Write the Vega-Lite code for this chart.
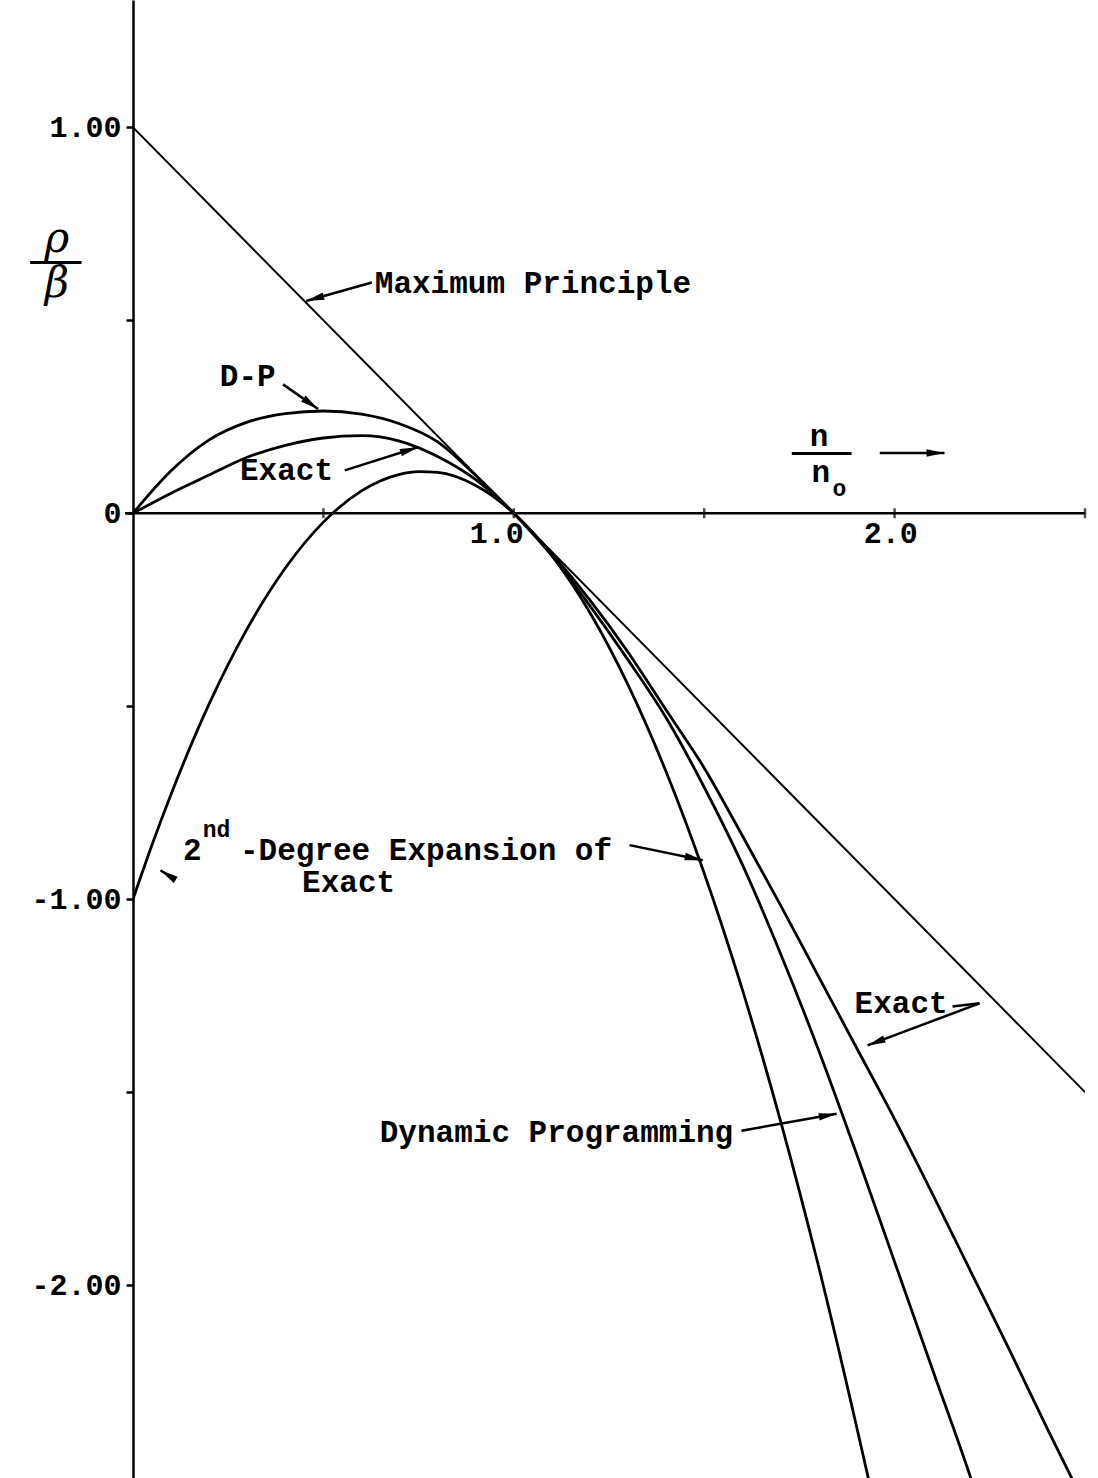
{
  "$schema": "https://vega.github.io/schema/vega-lite/v6.json",
  "width": 952,
  "height": 1478,
  "autosize": {"type": "none"},
  "padding": {"left": 133, "right": 13, "top": 0, "bottom": 0},
  "background": "white",
  "config": {
    "view": {"stroke": null},
    "text": {"font": "Liberation Mono", "fontWeight": "bold", "fontSize": 31, "color": "black"}
  },
  "datasets": {
    "curves": [
      {"c": "max", "x": 0, "y": 1}, {"c": "max", "x": 2.5, "y": -1.5},

      {"c": "exact", "x": 0, "y": 0}, {"c": "exact", "x": 0.1, "y": 0.052}, {"c": "exact", "x": 0.2, "y": 0.099},
      {"c": "exact", "x": 0.3, "y": 0.145}, {"c": "exact", "x": 0.4, "y": 0.176}, {"c": "exact", "x": 0.5, "y": 0.195},
      {"c": "exact", "x": 0.6, "y": 0.201}, {"c": "exact", "x": 0.7, "y": 0.187}, {"c": "exact", "x": 0.8, "y": 0.147},
      {"c": "exact", "x": 0.9, "y": 0.087}, {"c": "exact", "x": 1.0, "y": 0}, {"c": "exact", "x": 1.1, "y": -0.105},
      {"c": "exact", "x": 1.2, "y": -0.225}, {"c": "exact", "x": 1.3, "y": -0.36}, {"c": "exact", "x": 1.4, "y": -0.51},
      {"c": "exact", "x": 1.5, "y": -0.66}, {"c": "exact", "x": 1.6, "y": -0.835}, {"c": "exact", "x": 1.7, "y": -1.015},
      {"c": "exact", "x": 1.8, "y": -1.2}, {"c": "exact", "x": 1.9, "y": -1.385}, {"c": "exact", "x": 2.0, "y": -1.57},
      {"c": "exact", "x": 2.1, "y": -1.765}, {"c": "exact", "x": 2.2, "y": -1.965}, {"c": "exact", "x": 2.3, "y": -2.165},
      {"c": "exact", "x": 2.4, "y": -2.37}, {"c": "exact", "x": 2.48, "y": -2.53},

      {"c": "dp", "x": 0, "y": 0}, {"c": "dp", "x": 0.1, "y": 0.11}, {"c": "dp", "x": 0.2, "y": 0.19},
      {"c": "dp", "x": 0.3, "y": 0.236}, {"c": "dp", "x": 0.4, "y": 0.258}, {"c": "dp", "x": 0.5, "y": 0.265},
      {"c": "dp", "x": 0.6, "y": 0.257}, {"c": "dp", "x": 0.7, "y": 0.232}, {"c": "dp", "x": 0.8, "y": 0.185},
      {"c": "dp", "x": 0.9, "y": 0.098}, {"c": "dp", "x": 1.0, "y": 0}, {"c": "dp", "x": 1.1, "y": -0.11},
      {"c": "dp", "x": 1.2, "y": -0.24}, {"c": "dp", "x": 1.3, "y": -0.38}, {"c": "dp", "x": 1.4, "y": -0.53},
      {"c": "dp", "x": 1.5, "y": -0.71}, {"c": "dp", "x": 1.6, "y": -0.91}, {"c": "dp", "x": 1.7, "y": -1.14},
      {"c": "dp", "x": 1.8, "y": -1.39}, {"c": "dp", "x": 1.9, "y": -1.66}, {"c": "dp", "x": 2.0, "y": -1.94},
      {"c": "dp", "x": 2.1, "y": -2.22}, {"c": "dp", "x": 2.2, "y": -2.5}, {"c": "dp", "x": 2.21, "y": -2.53},

      {"c": "second", "x": 0, "y": -1}, {"c": "second", "x": 0.05, "y": -0.859}, {"c": "second", "x": 0.1, "y": -0.728},
      {"c": "second", "x": 0.2, "y": -0.494}, {"c": "second", "x": 0.3, "y": -0.299}, {"c": "second", "x": 0.4, "y": -0.142},
      {"c": "second", "x": 0.5, "y": -0.023}, {"c": "second", "x": 0.6, "y": 0.058}, {"c": "second", "x": 0.7, "y": 0.101},
      {"c": "second", "x": 0.75, "y": 0.108}, {"c": "second", "x": 0.8, "y": 0.106}, {"c": "second", "x": 0.9, "y": 0.072},
      {"c": "second", "x": 1.0, "y": 0},
      {"c": "second", "x": 1.1, "y": -0.11}, {"c": "second", "x": 1.2, "y": -0.258}, {"c": "second", "x": 1.3, "y": -0.445},
      {"c": "second", "x": 1.4, "y": -0.67}, {"c": "second", "x": 1.5, "y": -0.933}, {"c": "second", "x": 1.6, "y": -1.234},
      {"c": "second", "x": 1.7, "y": -1.573}, {"c": "second", "x": 1.8, "y": -1.95}, {"c": "second", "x": 1.9, "y": -2.366},
      {"c": "second", "x": 1.94, "y": -2.54}
    ],
    "notes": [
      {"text": "Maximum Principle", "x": 0.635, "y": 0.595},
      {"text": "D-P", "x": 0.228, "y": 0.353},
      {"text": "Exact", "x": 0.281, "y": 0.109},
      {"text": "2", "x": 0.131, "y": -0.874},
      {"text": "-Degree Expansion of", "x": 0.281, "y": -0.874},
      {"text": "Exact", "x": 0.444, "y": -0.957},
      {"text": "Exact", "x": 1.895, "y": -1.273},
      {"text": "Dynamic Programming", "x": 0.648, "y": -1.607},
      {"text": "n", "x": 1.777, "y": 0.197},
      {"text": "n", "x": 1.782, "y": 0.104}
    ],
    "small": [
      {"text": "nd", "x": 0.183, "y": -0.82},
      {"text": "o", "x": 1.837, "y": 0.062}
    ],
    "greek": [
      {"text": "ρ", "x": -0.2, "y": 0.71},
      {"text": "β", "x": -0.2, "y": 0.594}
    ],
    "bars": [
      {"x": -0.27, "x2": -0.135, "y": 0.65},
      {"x": 1.73, "x2": 1.887, "y": 0.155}
    ],
    "arrows": [
      {"x": 0.627, "y": 0.598, "x2": 0.455, "y2": 0.55, "head": 1},
      {"x": 0.394, "y": 0.334, "x2": 0.486, "y2": 0.27, "head": 1},
      {"x": 0.556, "y": 0.111, "x2": 0.748, "y2": 0.171, "head": 1},
      {"x": 0.112, "y": -0.95, "x2": 0.072, "y2": -0.925, "head": 1},
      {"x": 1.304, "y": -0.86, "x2": 1.496, "y2": -0.899, "head": 1},
      {"x": 2.152, "y": -1.278, "x2": 2.223, "y2": -1.27, "head": 0},
      {"x": 2.223, "y": -1.27, "x2": 1.929, "y2": -1.379, "head": 1},
      {"x": 1.598, "y": -1.6, "x2": 1.848, "y2": -1.556, "head": 1},
      {"x": 1.961, "y": 0.156, "x2": 2.131, "y2": 0.156, "head": 1}
    ],
    "xticks": [
      {"x": 0.5, "y": 0}, {"x": 1.0, "y": 0}, {"x": 1.5, "y": 0}, {"x": 2.0, "y": 0}, {"x": 2.5, "y": 0}
    ],
    "xlabels": [
      {"text": "1.0", "x": 0.955, "y": 0},
      {"text": "2.0", "x": 1.99, "y": 0}
    ],
    "xaxis": [{"x": -0.021, "x2": 2.5, "y": 0}]
  },
  "layer": [
    {
      "data": {"name": "curves"},
      "transform": [{"filter": "datum.c === 'max'"}],
      "mark": {"type": "line", "color": "black", "strokeWidth": 2, "clip": true},
      "encoding": {
        "x": {"field": "x", "type": "quantitative", "scale": {"domain": [0, 2.5], "nice": false, "zero": false}, "axis": null},
        "y": {
          "field": "y", "type": "quantitative",
          "scale": {"domain": [-2.5, 1.33], "nice": false, "zero": false},
          "axis": {
            "title": null, "grid": false,
            "values": [1, 0.5, 0, -0.5, -1, -1.5, -2],
            "labelExpr": "datum.value == 1 ? '1.00' : datum.value == 0 ? '0\u00a0' : datum.value == -1 ? '-1.00' : datum.value == -2 ? '-2.00' : ''",
            "domainColor": "black", "domainWidth": 2.5,
            "tickColor": "black", "tickWidth": 2.5, "tickSize": 7,
            "labelFont": "Liberation Mono", "labelFontWeight": "bold", "labelFontSize": 30,
            "labelColor": "black", "labelPadding": 5
          }
        },
        "detail": {"field": "c"}
      }
    },
    {
      "data": {"name": "curves"},
      "transform": [{"filter": "datum.c !== 'max'"}],
      "mark": {"type": "line", "color": "black", "strokeWidth": 2.8, "interpolate": "monotone", "clip": true},
      "encoding": {
        "x": {"field": "x", "type": "quantitative"},
        "y": {"field": "y", "type": "quantitative"},
        "detail": {"field": "c"}
      }
    },
    {
      "data": {"name": "xaxis"},
      "mark": {"type": "rule", "color": "black", "strokeWidth": 2.5},
      "encoding": {
        "x": {"field": "x", "type": "quantitative"},
        "x2": {"field": "x2"},
        "y": {"field": "y", "type": "quantitative"}
      }
    },
    {
      "data": {"name": "xticks"},
      "mark": {"type": "tick", "orient": "vertical", "color": "black", "thickness": 2.5, "size": 10},
      "encoding": {
        "x": {"field": "x", "type": "quantitative"},
        "y": {"field": "y", "type": "quantitative"}
      }
    },
    {
      "data": {"name": "xlabels"},
      "mark": {"type": "text", "align": "center", "baseline": "alphabetic", "dy": 30, "fontSize": 30},
      "encoding": {
        "x": {"field": "x", "type": "quantitative"},
        "y": {"field": "y", "type": "quantitative"},
        "text": {"field": "text"}
      }
    },
    {
      "data": {"name": "notes"},
      "mark": {"type": "text", "align": "left", "baseline": "middle"},
      "encoding": {
        "x": {"field": "x", "type": "quantitative"},
        "y": {"field": "y", "type": "quantitative"},
        "text": {"field": "text"}
      }
    },
    {
      "data": {"name": "small"},
      "mark": {"type": "text", "align": "left", "baseline": "middle", "fontSize": 23},
      "encoding": {
        "x": {"field": "x", "type": "quantitative"},
        "y": {"field": "y", "type": "quantitative"},
        "text": {"field": "text"}
      }
    },
    {
      "data": {"name": "greek"},
      "mark": {"type": "text", "align": "center", "baseline": "middle", "font": "DejaVu Serif", "fontStyle": "italic", "fontWeight": "normal", "fontSize": 42},
      "encoding": {
        "x": {"field": "x", "type": "quantitative"},
        "y": {"field": "y", "type": "quantitative"},
        "text": {"field": "text"}
      }
    },
    {
      "data": {"name": "bars"},
      "mark": {"type": "rule", "color": "black", "strokeWidth": 3},
      "encoding": {
        "x": {"field": "x", "type": "quantitative"},
        "x2": {"field": "x2"},
        "y": {"field": "y", "type": "quantitative"}
      }
    },
    {
      "data": {"name": "arrows"},
      "mark": {"type": "rule", "color": "black", "strokeWidth": 2.5},
      "encoding": {
        "x": {"field": "x", "type": "quantitative"},
        "y": {"field": "y", "type": "quantitative"},
        "x2": {"field": "x2"},
        "y2": {"field": "y2"}
      }
    },
    {
      "data": {"name": "arrows"},
      "transform": [
        {"filter": "datum.head == 1"},
        {"calculate": "atan2((datum.x2 - datum.x) * 381, (datum.y2 - datum.y) * 386) * 180 / PI", "as": "angle"}
      ],
      "mark": {"type": "point", "shape": "M0,0L0.42,2L-0.42,2Z", "filled": true, "color": "black", "opacity": 1, "size": 324, "strokeWidth": 0},
      "encoding": {
        "x": {"field": "x2", "type": "quantitative"},
        "y": {"field": "y2", "type": "quantitative"},
        "angle": {"field": "angle", "type": "quantitative", "scale": null}
      }
    }
  ]
}
